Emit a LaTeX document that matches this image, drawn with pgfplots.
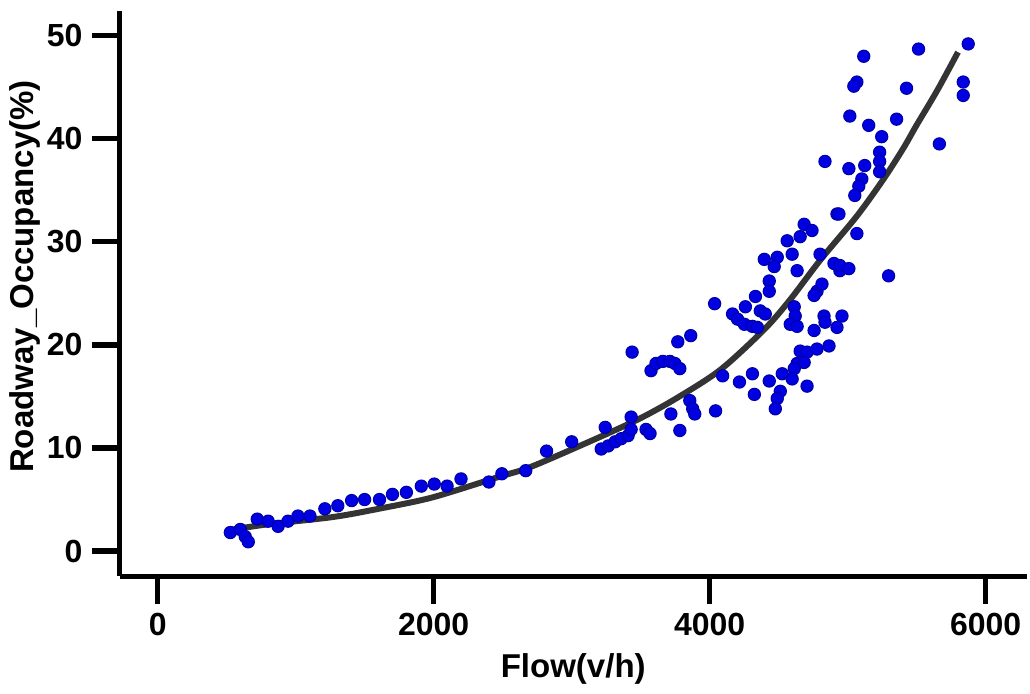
\documentclass[border=0pt]{standalone}
\usepackage{pgfplots}
\pgfplotsset{compat=1.18}
\usepackage{fontspec}
\setmainfont{Liberation Sans}
\definecolor{dotblue}{RGB}{0,0,225}
\definecolor{dotedge}{RGB}{0,0,170}
\definecolor{fitgray}{RGB}{52,52,52}

\begin{document}
\begin{tikzpicture}
  \begin{axis}[
      scale only axis, width=340.5pt, height=212.25pt,
      xmin=-275, xmax=6297, ymin=-2.43, ymax=52.4,
      axis x line=bottom, axis y line=left,
      axis line style={-, line width=1.9pt},
      xtick={0,2000,4000,6000}, ytick={0,10,20,30,40,50},
      tick align=outside, major tick length=10.5pt,
      every tick/.style={black, line width=2pt},
      /pgf/number format/1000 sep={},
      /pgf/number format/assume math mode=true,
      tick label style={font=\fontsize{12}{14}\selectfont\bfseries},
      xlabel={Flow(v/h)}, ylabel={Roadway\_Occupancy(\%)},
      label style={font=\fontsize{12.4}{14}\selectfont\bfseries},
      x label style={at={(axis description cs:0.5,0)}, anchor=center, yshift=-35pt},
      y label style={at={(axis description cs:-0.105,0.53)}, anchor=center},
      clip=false,
    ]
    % observed points
    \addplot[only marks, mark=*, mark size=2.3pt, mark options={fill=dotblue, draw=dotedge, line width=0.4pt}] coordinates {
      (526,1.8) (598,2.1) (634,1.4) (656,0.9) (721,3.1) (800,2.9) (872,2.4) (944,2.9)
      (1016,3.4) (1103,3.4) (1211,4.1) (1305,4.4) (1405,4.9) (1499,5.0) (1607,5.0)
      (1701,5.5) (1802,5.7) (1910,6.3) (2004,6.5) (2097,6.3) (2198,7.0) (2400,6.7)
      (2494,7.5) (2667,7.8) (2818,9.7) (3000,10.6) (3243,12.0) (3214,9.9) (3265,10.2)
      (3315,10.6) (3359,10.9) (3409,11.2) (3431,11.8) (3431,13.0) (3539,11.8) (3568,11.4)
      (3438,19.3) (3575,17.5) (3611,18.2) (3661,18.4) (3712,18.4) (3748,18.2) (3784,17.7)
      (3769,20.3) (3863,20.9) (3719,13.3) (3784,11.7) (3856,14.6) (3877,13.8) (3892,13.3)
      (4043,13.6) (4036,24.0) (4923,32.7) (4685,31.7) (4742,31.1) (4656,30.5) (4562,30.1)
      (4598,28.8) (4396,28.3) (4490,28.5) (4468,27.6) (4634,27.2) (4800,28.8) (4901,27.9)
      (4944,27.2) (4432,26.2) (4432,25.2) (4332,24.7) (4259,23.7) (4367,23.3) (4403,23.0)
      (4166,23.0) (4202,22.5) (4252,22.0) (4310,21.8) (4346,21.7) (4613,23.7) (4620,22.8)
      (4584,22.0) (4634,21.8) (4778,25.2) (4814,25.9) (4757,24.8) (4829,22.8) (4836,22.2)
      (4757,21.4) (4959,22.8) (4923,21.7) (4656,19.4) (4706,19.3) (4778,19.6) (4865,19.9)
      (4634,18.2) (4685,18.3) (4613,17.7) (4598,16.7) (4526,17.2) (4432,16.5) (4310,17.2)
      (4216,16.4) (4094,17.0) (4706,16.0) (4324,15.2) (4512,15.5) (4490,14.8) (4476,13.8)
      (5874,49.2) (5514,48.7) (5117,48.0) (5067,45.5) (5045,45.1) (5838,45.5) (5838,44.2)
      (5427,44.9) (5016,42.2) (5355,41.9) (5153,41.3) (5247,40.2) (5665,39.5) (5232,38.7)
      (5009,37.1) (5124,37.4) (5232,37.8) (5232,36.8) (5103,36.1) (5081,35.4) (5052,34.5)
      (4937,32.7) (5067,30.8) (5297,26.7) (4944,27.7) (5009,27.4) (4836,37.8)
    };
    % fitted curve
    \addplot[fitgray, line width=2.25pt, smooth] coordinates {
      (500,2.0) (800,2.6) (1268,3.3) (1600,4.1) (1989,5.2) (2472,7.2) (2710,8.2)
      (3193,11.0) (3500,12.9) (3769,14.9) (4079,17.6) (4396,21.5) (4584,24.4)
      (4800,28.2) (5067,32.5) (5261,36.1) (5405,39.1) (5499,41.3) (5650,44.7) (5800,48.4)
    };
    \path (rel axis cs:0,0) ++(-45pt,-40.5pt) coordinate (bbsw);
    \path (rel axis cs:1,1) ++(0.75pt,4.1pt) coordinate (bbne);
  \end{axis}
  \path (bbsw) rectangle (bbne);
\end{tikzpicture}
\end{document}
